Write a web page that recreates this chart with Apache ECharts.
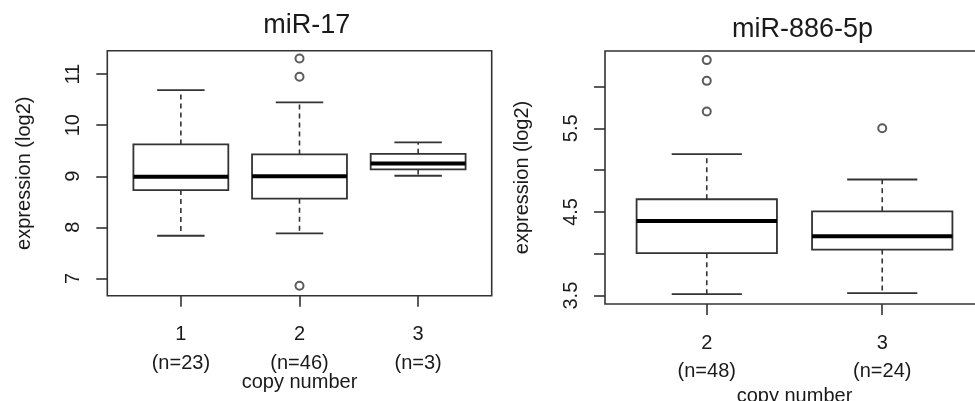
<!DOCTYPE html>
<html>
<head>
<meta charset="utf-8">
<script src="https://cdn.jsdelivr.net/npm/echarts@6/dist/echarts.min.js"></script>
<style>
html,body{margin:0;padding:0;background:#fff;}
#chart{width:975px;height:401px;}
</style>
</head>
<body>
<div id="chart"></div>
<script>
// ---- data ----
const leftTitle = 'miR-17';
const leftCategories = ['1', '2', '3'];
const leftCounts = [23, 46, 3];
// [lower whisker, Q1, median, Q3, upper whisker]
const leftStats = [
  [7.835, 8.729, 8.99, 9.623, 10.687],
  [7.881, 8.56, 9.0, 9.428, 10.446],
  [9.01, 9.134, 9.252, 9.44, 9.663]
];
const leftOutlierGroup = [2, 2, 2];
const leftOutlierValues = [11.307, 10.948, 6.855];
const leftYTicks = [7, 8, 9, 10, 11];
const leftYLabels = [7, 8, 9, 10, 11];

const rightTitle = 'miR-886-5p';
const rightCategories = ['2', '3'];
const rightCounts = [48, 24];
const rightStats = [
  [3.517, 4.008, 4.392, 4.652, 5.192],
  [3.531, 4.05, 4.209, 4.508, 4.888]
];
const rightOutlierGroup = [1, 1, 1, 2];
const rightOutlierValues = [6.315, 6.067, 5.70, 5.5];
const rightYTicks = [3.5, 4, 4.5, 5, 5.5, 6];
const rightYLabels = [3.5, 4.5, 5.5];

const yTitle = 'expression (log2)';
const xTitle = 'copy number';

// ---- styling ----
const FONT = 'Liberation Sans, Arial, sans-serif';
const INK = '#333';
const TXT = '#1a1a1a';
const FS = 20;

function renderBox(params, api) {
  const x = api.value(0);
  const lo = api.value(1), q1 = api.value(2), med = api.value(3), q3 = api.value(4), hi = api.value(5);
  const hw = 0.4, cw = 0.2;
  const p = (a, b) => api.coord([a, b]);
  const line = (a, b, style) => ({ type: 'line', shape: { x1: a[0], y1: a[1], x2: b[0], y2: b[1] }, style: style });
  const solid = { stroke: INK, lineWidth: 1.8 };
  const dashed = { stroke: INK, lineWidth: 1.6, lineDash: [5, 4] };
  const tl = p(x - hw, q3), br = p(x + hw, q1);
  return {
    type: 'group',
    children: [
      line(p(x, q3), p(x, hi), dashed),
      line(p(x, q1), p(x, lo), dashed),
      line(p(x - cw, hi), p(x + cw, hi), solid),
      line(p(x - cw, lo), p(x + cw, lo), solid),
      { type: 'rect', shape: { x: tl[0], y: tl[1], width: br[0] - tl[0], height: br[1] - tl[1] },
        style: { fill: 'none', stroke: INK, lineWidth: 1.8 } },
      line(p(x - hw, med), p(x + hw, med), { stroke: '#000', lineWidth: 4 })
    ]
  };
}

function xAxisFor(idx, cats, counts, min, max, nameGap) {
  const pos = cats.map((c, i) => i + 1);
  return {
    type: 'value', gridIndex: idx, min: min, max: max,
    axisLine: { show: false },
    splitLine: { show: false },
    axisTick: { show: true, customValues: pos, length: 11, lineStyle: { color: INK, width: 1.6 } },
    axisLabel: {
      customValues: pos, margin: 25, fontSize: FS, lineHeight: 28.5, color: TXT, fontFamily: FONT,
      formatter: v => cats[Math.round(v) - 1] + '\n(n=' + counts[Math.round(v) - 1] + ')'
    },
    name: xTitle, nameLocation: 'middle', nameGap: nameGap, nameMoveOverlap: false,
    nameTextStyle: { fontSize: FS, color: TXT, fontFamily: FONT, verticalAlign: 'middle' }
  };
}

function yAxisFor(idx, min, max, ticks, labels, nameGap) {
  return {
    type: 'value', gridIndex: idx, min: min, max: max,
    axisLine: { show: false },
    splitLine: { show: false },
    axisTick: { show: true, customValues: ticks, length: 11, lineStyle: { color: INK, width: 1.6 } },
    axisLabel: {
      customValues: labels, rotate: 90, margin: 33.5, verticalAlign: 'middle',
      fontSize: FS, color: TXT, fontFamily: FONT
    },
    name: yTitle, nameLocation: 'middle', nameGap: nameGap, nameMoveOverlap: false,
    nameTextStyle: { fontSize: FS, color: TXT, fontFamily: FONT, verticalAlign: 'middle' }
  };
}

const chart = echarts.init(document.getElementById('chart'), null, { renderer: 'canvas' });

const option = {
  animation: false,
  backgroundColor: '#fff',
  graphic: [
    { type: 'text', x: 306.7, y: 26, style: { text: leftTitle, fontSize: 27, fontFamily: FONT, fill: TXT, align: 'center', verticalAlign: 'middle' } },
    { type: 'text', x: 802.5, y: 29.3, style: { text: rightTitle, fontSize: 27, fontFamily: FONT, fill: TXT, align: 'center', verticalAlign: 'middle' } }
  ],
  grid: [
    { left: 107.3, top: 50.7, width: 384.4, height: 245, show: true, borderColor: INK, borderWidth: 1.6, backgroundColor: 'transparent', containLabel: false, outerBoundsMode: 'none' },
    { left: 605, top: 51, width: 379, height: 253, show: true, borderColor: INK, borderWidth: 1.6, backgroundColor: 'transparent', containLabel: false, outerBoundsMode: 'none' }
  ],
  xAxis: [
    xAxisFor(0, leftCategories, leftCounts, 0.38, 3.62, 87),
    xAxisFor(1, rightCategories, rightCounts, 0.42, 2.58, 92)
  ],
  yAxis: [
    yAxisFor(0, 6.66, 11.46, leftYTicks, leftYLabels, 83),
    yAxisFor(1, 3.40, 6.424, rightYTicks, rightYLabels, 82.5)
  ],
  series: [
    {
      type: 'custom', xAxisIndex: 0, yAxisIndex: 0, renderItem: renderBox, clip: false,
      encode: { x: 0, y: [1, 2, 3, 4, 5] },
      data: leftStats.map((s, i) => [i + 1].concat(s))
    },
    {
      type: 'scatter', xAxisIndex: 0, yAxisIndex: 0, symbol: 'emptyCircle', symbolSize: 8,
      itemStyle: { color: INK, borderWidth: 1.3 },
      data: leftOutlierValues.map((v, i) => [leftOutlierGroup[i], v])
    },
    {
      type: 'custom', xAxisIndex: 1, yAxisIndex: 1, renderItem: renderBox, clip: false,
      encode: { x: 0, y: [1, 2, 3, 4, 5] },
      data: rightStats.map((s, i) => [i + 1].concat(s))
    },
    {
      type: 'scatter', xAxisIndex: 1, yAxisIndex: 1, symbol: 'emptyCircle', symbolSize: 8,
      itemStyle: { color: INK, borderWidth: 1.3 },
      data: rightOutlierValues.map((v, i) => [rightOutlierGroup[i], v])
    }
  ]
};
chart.setOption(option);
</script>
</body>
</html>
